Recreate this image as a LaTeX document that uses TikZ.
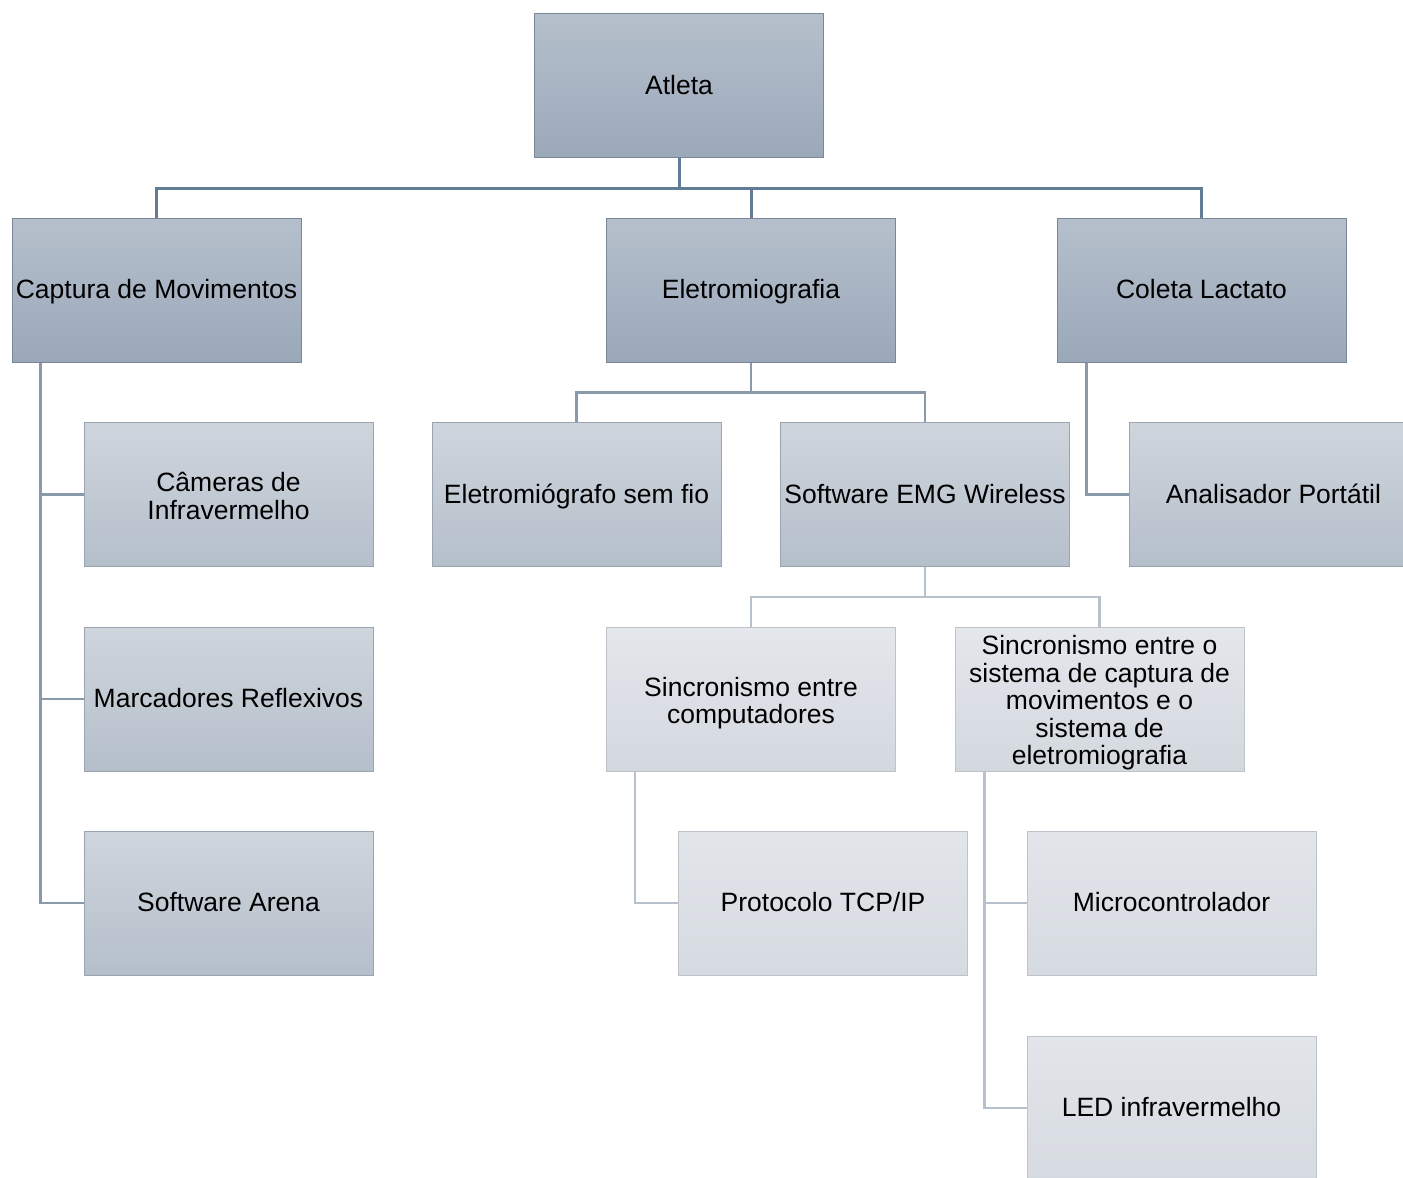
\documentclass[tikz,border=0pt]{standalone}
\usepackage{fontspec}
\setmainfont{Liberation Sans}
\usetikzlibrary{calc}
\definecolor{aTop}{HTML}{B6C0CC}
\definecolor{aBot}{HTML}{9AA8B9}
\definecolor{bTop}{HTML}{CFD5DD}
\definecolor{bBot}{HTML}{B5BFCA}
\definecolor{cTop}{HTML}{E4E7EC}
\definecolor{cBot}{HTML}{D3D8DF}
\definecolor{dTop}{HTML}{E2E5EA}
\definecolor{dBot}{HTML}{D6DBE1}
\definecolor{edgeA}{HTML}{7A8796}
\definecolor{edgeB}{HTML}{9AA5B1}
\definecolor{edgeC}{HTML}{BCC3CB}
\definecolor{lineA}{HTML}{627C95}
\definecolor{lineB}{HTML}{8B9AAB}
\definecolor{lineC}{HTML}{B7C1CC}
\newcommand\toprl{\rule{0pt}{30pt}}
\tikzset{
  box/.style={rectangle, minimum width=289pt, minimum height=144pt, inner sep=0pt,
    align=center, font=\fontsize{26.5}{27.5}\selectfont, line width=1pt,
    execute at begin node={\rule{0pt}{25.5pt}}, execute at end node=\strut},
  lvA/.style={box, top color=aTop, bottom color=aBot, draw=edgeA},
  lvB/.style={box, top color=bTop, bottom color=bBot, draw=edgeB},
  lvC/.style={box, top color=cTop, bottom color=cBot, draw=edgeC},
  lvD/.style={box, top color=dTop, bottom color=dBot, draw=edgeC},
  linkA/.style={draw=lineA, line width=3pt},
  linkB/.style={draw=lineB, line width=2.5pt},
  linkC/.style={draw=lineC, line width=2.5pt},
}
\begin{document}
\begin{tikzpicture}[x=1pt,y=-1pt]
\useasboundingbox (0,0) rectangle (1403,1178);
% level 1 and 2
\node[lvA] (atleta) at (679,85.5) {Atleta};
\node[lvA] (captura) at (156.5,290) {Captura de Movimentos};
\node[lvA] (emg) at (751,290) {Eletromiografia};
\node[lvA] (coleta) at (1201.5,290) {Coleta Lactato};
% level 3
\node[lvB] (cameras) at (228.5,494.5) {\toprl Câmeras de\\Infravermelho};
\node[lvB] (marcadores) at (228.5,699) {Marcadores Reflexivos};
\node[lvB] (arena) at (228.5,903) {Software Arena};
\node[lvB] (emgsf) at (576.5,494.5) {Eletromiógrafo sem fio};
\node[lvB] (swemg) at (925,494.5) {Software EMG Wireless};
\node[lvB] (analisador) at (1273.5,494.5) {Analisador Portátil};
% level 4
\node[lvC] (sinccomp) at (751,699) {\toprl Sincronismo entre\\computadores};
\node[lvC, inner ysep=-3pt] (sincsys) at (1099.5,699) {\toprl Sincronismo entre o\\sistema de captura de\\movimentos e o\\sistema de\\eletromiografia};
% level 5
\node[lvD] (tcp) at (823,903) {Protocolo TCP/IP};
\node[lvD] (micro) at (1171.5,903) {Microcontrolador};
\node[lvD] (led) at (1171.5,1108) {LED infravermelho};
% connectors
\draw[linkA] (atleta.south) -- ++(0,30) coordinate (hA) -| (captura.north);
\draw[linkA] (hA) -| (emg.north);
\draw[linkA] (hA) -| (coleta.north);
\draw[linkB] (emg.south) -- ++(0,30) coordinate (hB) -| (emgsf.north);
\draw[linkB] (hB) -| (swemg.north);
\draw[linkC] (swemg.south) -- ++(0,30) coordinate (hC) -| (sinccomp.north);
\draw[linkC] (hC) -| (sincsys.north);
\draw[linkB] ([xshift=29pt]captura.south west) |- (cameras.west);
\draw[linkB] ([xshift=29pt]captura.south west) |- (marcadores.west);
\draw[linkB] ([xshift=29pt]captura.south west) |- (arena.west);
\draw[linkB] ([xshift=30pt]coleta.south west) |- (analisador.west);
\draw[linkC] ([xshift=29pt]sinccomp.south west) |- (tcp.west);
\draw[linkC] ([xshift=30pt]sincsys.south west) |- (micro.west);
\draw[linkC] ([xshift=30pt]sincsys.south west) |- (led.west);
\end{tikzpicture}
\end{document}
